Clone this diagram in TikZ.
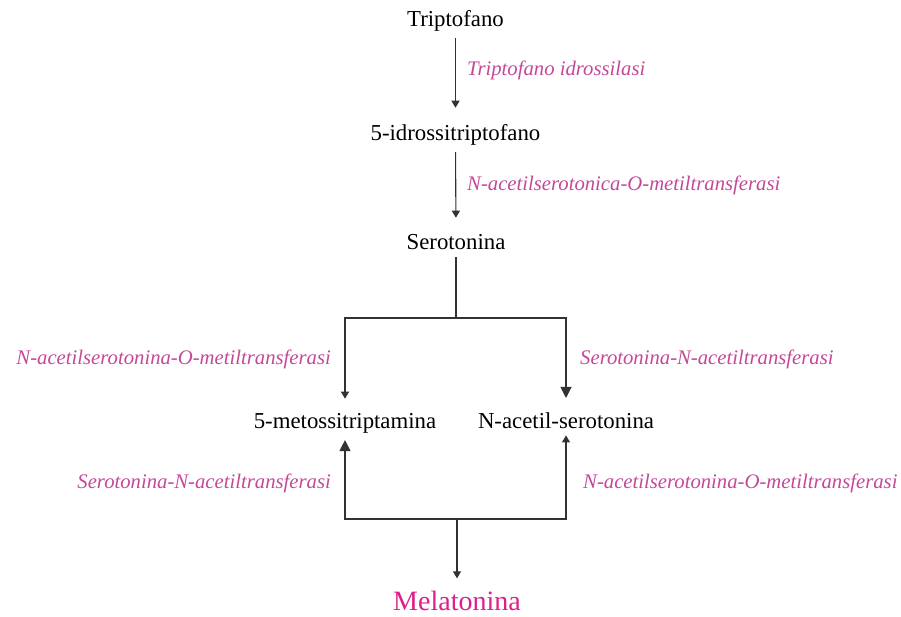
\documentclass[tikz,border=0pt]{standalone}
\usepackage{fontspec}
\setmainfont{Liberation Serif}
\usetikzlibrary{arrows.meta}
\definecolor{enz}{RGB}{196,72,152}
\definecolor{mel}{RGB}{222,30,138}
\definecolor{ln}{RGB}{50,50,50}
\begin{document}
\begin{tikzpicture}[x=1pt,y=-1pt,
  mol/.style={inner sep=0pt,anchor=base,font=\fontsize{22.8}{25}\selectfont},
  enzL/.style={inner sep=0pt,anchor=base west,text=enz,font=\fontsize{20.7}{23}\selectfont\itshape},
  enzR/.style={inner sep=0pt,anchor=base east,text=enz,font=\fontsize{20.7}{23}\selectfont\itshape},
  wire/.style={draw=ln,line width=1.1pt},
  arr/.style={wire,-{Triangle[width=8pt,length=7pt]}},
  bigarr/.style={wire,-{Triangle[width=11pt,length=11pt]}}]
\useasboundingbox (0,0) rectangle (901,616);
\node[mol] (trp) at (455.5,26) {Triptofano};
\node[mol] (hyd) at (455.5,140) {5-idrossitriptofano};
\node[mol] (ser) at (456,249) {Serotonina};
\node[mol] (mtt) at (345,428) {5-metossitriptamina};
\node[mol] (nas) at (566,428) {N-acetil-serotonina};
\node[mol,text=mel,font=\fontsize{28}{30}\selectfont] (mel) at (457,610) {Melatonina};
\coordinate (j1) at (456,318);
\coordinate (j2) at (457,519);
\draw[arr,shorten <=7pt,shorten >=16pt] (trp.south) -- (hyd.north);
\draw[arr,shorten <=7pt,shorten >=16pt] (hyd.south) -- (ser.north);
\draw[wire,shorten <=8pt] (ser.south) -- (j1);
\draw[arr,shorten >=14pt] (j1) -| (mtt.north);
\draw[bigarr,shorten >=14pt] (j1) -| (nas.north);
\draw[bigarr,shorten >=7pt] (j2) -| (mtt.south);
\draw[arr,shorten >=7pt] (j2) -| (nas.south);
\draw[arr,shorten >=12pt] (j2) -- (mel.north);
\node[enzL] (e1) at (467,75) {Triptofano idrossilasi};
\node[enzL] (e2) at (467,190) {N-acetilserotonica-O-metiltransferasi};
\node[enzR] (e3) at (331,364) {N-acetilserotonina-O-metiltransferasi};
\node[enzL] (e4) at (580,364) {Serotonina-N-acetiltransferasi};
\node[enzR] (e5) at (331,488) {Serotonina-N-acetiltransferasi};
\node[enzL] (e6) at (583,488) {N-acetilserotonina-O-metiltransferasi};
\end{tikzpicture}
\end{document}
